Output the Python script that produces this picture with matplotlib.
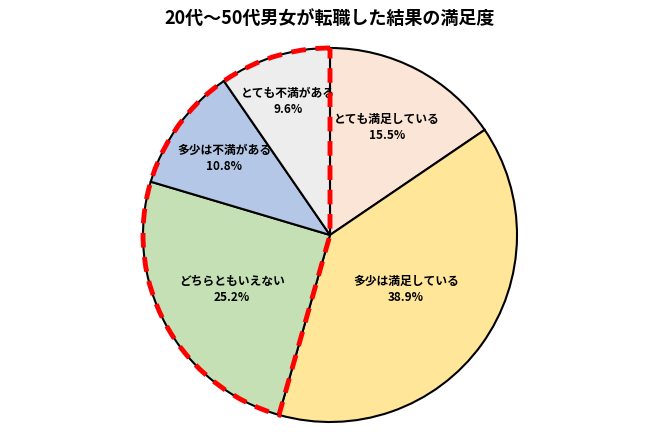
import matplotlib.pyplot as plt
import numpy as np
from matplotlib.patches import Wedge

plt.rcParams['font.family'] = ['Noto Sans CJK JP', 'DejaVu Sans']

labels = ["とても満足している", "多少は満足している", "どちらともいえない", "多少は不満がある", "とても不満がある"]
values = [15.5, 38.9, 25.2, 10.8, 9.6]
colors = ["#FBE5D6", "#FFE699", "#C5E0B4", "#B4C7E7", "#EDEDED"]
dissatisfied = values[2:]  # highlighted group

fig = plt.figure(figsize=(6.59, 4.32), dpi=100)
r_px = 187
ax = fig.add_axes([(330 - 200) / 659, (432 - 235 - 200) / 432, 400 / 659, 400 / 432])
wedges, _ = ax.pie(values, colors=colors, startangle=90, counterclock=False,
                   wedgeprops=dict(edgecolor="black", linewidth=1.5))
lim = 200 / r_px
ax.set_xlim(-lim, lim)
ax.set_ylim(-lim, lim)
ax.set_aspect("equal")

dists = [0.65, 0.5, 0.6, 0.7, 0.75]
for w, lab, v, d in zip(wedges, labels, values, dists):
    ang = np.deg2rad((w.theta1 + w.theta2) / 2)
    ax.text(d * np.cos(ang), d * np.sin(ang), f"{lab}\n{v}%", ha="center", va="center",
            fontsize=8.5, fontweight="bold", linespacing=1.3)

span = sum(dissatisfied) / sum(values) * 360
ax.add_patch(Wedge((0, 0), 1.0, 90, 90 + span, fill=False, edgecolor="#FF0000",
                   linestyle=(0, (3, 2)), linewidth=3.5, zorder=5))

fig.text(0.5, 1 - 18 / 432, "20代～50代男女が転職した結果の満足度", ha="center", va="center",
         fontsize=13, fontweight="bold")
fig.savefig("out.png", dpi=100)
